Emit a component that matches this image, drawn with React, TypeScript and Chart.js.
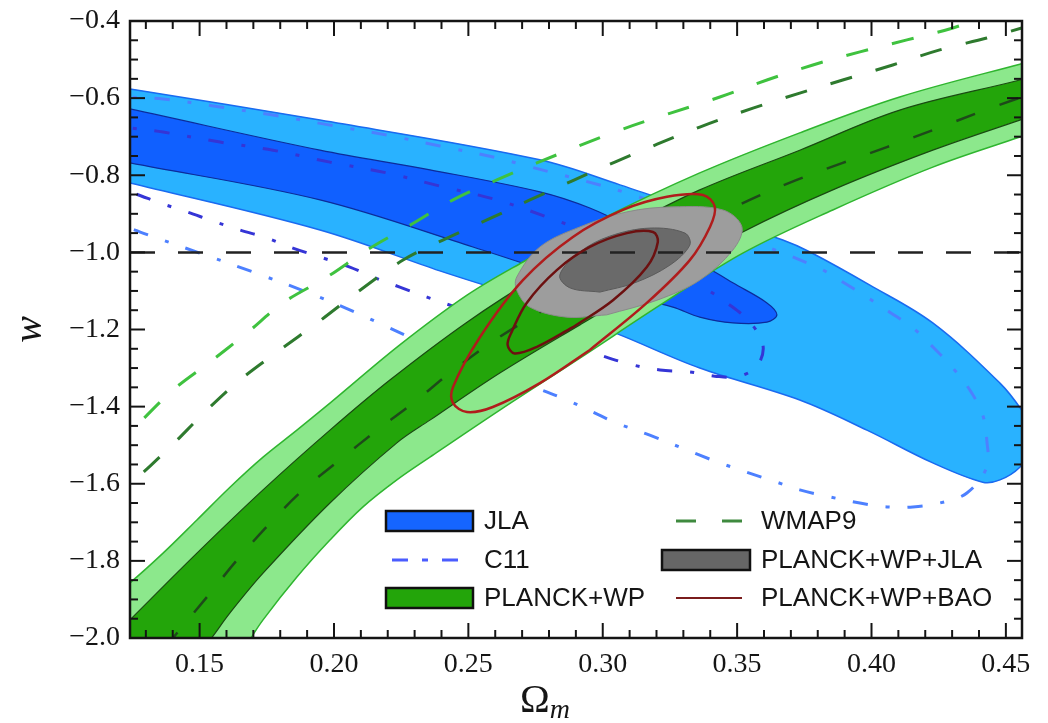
import React, { useEffect, useRef } from 'react';
import { Chart, registerables } from 'chart.js';

Chart.register(...registerables);

type P = [number, number];

// axis ranges and ticks
const X_MIN = 0.1241;
const X_MAX = 0.456;
const Y_MIN = -2.0;
const Y_MAX = -0.4;
const xTickValues = [0.15, 0.2, 0.25, 0.3, 0.35, 0.4, 0.45];
const xTickLabels = ['0.15', '0.20', '0.25', '0.30', '0.35', '0.40', '0.45'];
const yTickValues = [-2.0, -1.8, -1.6, -1.4, -1.2, -1.0, -0.8, -0.6, -0.4];
const yTickLabels = ['−2.0', '−1.8', '−1.6', '−1.4', '−1.2', '−1.0', '−0.8', '−0.6', '−0.4'];
const xMinorTicks = [0.13, 0.14, 0.16, 0.17, 0.18, 0.19, 0.21, 0.22, 0.23, 0.24, 0.26, 0.27, 0.28, 0.29, 0.31, 0.32, 0.33, 0.34, 0.36, 0.37, 0.38, 0.39, 0.41, 0.42, 0.43, 0.44];
const yMinorTicks = [-1.95, -1.9, -1.85, -1.75, -1.7, -1.65, -1.55, -1.5, -1.45, -1.35, -1.3, -1.25, -1.15, -1.1, -1.05, -0.95, -0.9, -0.85, -0.75, -0.7, -0.65, -0.55, -0.5, -0.45];

// JLA contours (Omega_m, w)
const jla2Sigma: P[] = [
  [0.1129, -0.563], [0.1241, -0.576], [0.1948, -0.657], [0.2766, -0.76], [0.3064, -0.825], [0.3361, -0.895],
  [0.367, -0.968], [0.3771, -0.999], [0.3994, -1.085], [0.4228, -1.183], [0.4478, -1.339], [0.4559, -1.409],
  [0.4626, -1.487], [0.4552, -1.557], [0.4478, -1.59], [0.4414, -1.596], [0.4228, -1.546], [0.3983, -1.461],
  [0.3733, -1.383], [0.3361, -1.3], [0.3064, -1.214], [0.2729, -1.124], [0.2394, -1.048], [0.1948, -0.942],
  [0.1241, -0.82], [0.1129, -0.802], [0.1129, -0.563],
];
const jla1Sigma: P[] = [
  [0.1129, -0.613], [0.1241, -0.628], [0.1948, -0.735], [0.2357, -0.786], [0.2766, -0.843], [0.2952, -0.885],
  [0.3138, -0.947], [0.3361, -1.028], [0.3484, -1.079], [0.3611, -1.131], [0.3648, -1.162], [0.3611, -1.181],
  [0.3484, -1.183], [0.3361, -1.168], [0.3261, -1.142], [0.3015, -1.098], [0.2517, -0.986], [0.1948, -0.864],
  [0.1241, -0.768], [0.1129, -0.753], [0.1129, -0.613],
];

// C11 contours
const c11Outer: P[] = [
  [0.1129, -0.587], [0.1241, -0.597], [0.1364, -0.602], [0.1576, -0.623], [0.1773, -0.644], [0.1985, -0.67],
  [0.2197, -0.696], [0.2394, -0.724], [0.2606, -0.755], [0.2703, -0.773], [0.3112, -0.851], [0.3436, -0.939],
  [0.3797, -1.038], [0.3893, -1.077], [0.3983, -1.116], [0.4068, -1.155], [0.4154, -1.196], [0.4228, -1.245],
  [0.4303, -1.3], [0.4366, -1.357], [0.4414, -1.422], [0.4429, -1.487], [0.4429, -1.557], [0.4355, -1.624],
  [0.4254, -1.65], [0.4154, -1.66], [0.4057, -1.66], [0.3957, -1.65], [0.3845, -1.634], [0.3733, -1.616],
  [0.3648, -1.596], [0.3536, -1.57], [0.3436, -1.546], [0.3361, -1.526], [0.3175, -1.474], [0.3053, -1.443],
  [0.2963, -1.414], [0.2867, -1.383], [0.2755, -1.352], [0.2431, -1.266], [0.2182, -1.188], [0.2085, -1.157],
  [0.1899, -1.103], [0.1699, -1.051], [0.1501, -1.002], [0.1289, -0.95], [0.1241, -0.937], [0.1129, -0.911],
];
const c11Inner: P[] = [
  [0.1129, -0.667], [0.1241, -0.677], [0.1364, -0.688], [0.1576, -0.714], [0.1773, -0.735], [0.1985, -0.766],
  [0.2197, -0.794], [0.2394, -0.828], [0.2606, -0.864], [0.2803, -0.911], [0.3064, -0.981], [0.325, -1.041],
  [0.3373, -1.09], [0.3462, -1.131], [0.3548, -1.181], [0.3596, -1.24], [0.3577, -1.292], [0.351, -1.321],
  [0.3417, -1.321], [0.3324, -1.31], [0.3213, -1.305], [0.3101, -1.29], [0.2989, -1.266], [0.2941, -1.253],
  [0.2766, -1.214], [0.2617, -1.181], [0.2346, -1.116], [0.2245, -1.09], [0.2145, -1.064], [0.2059, -1.038],
  [0.1948, -1.012], [0.1847, -0.989], [0.1751, -0.963], [0.165, -0.942], [0.155, -0.919], [0.1453, -0.895],
  [0.1353, -0.872], [0.1252, -0.846], [0.1129, -0.82],
];

// WMAP9 contour branches
const wmapOuter: P[] = [
  [0.1167, -1.513], [0.1241, -1.466], [0.1401, -1.357], [0.1539, -1.284], [0.1676, -1.209], [0.181, -1.131],
  [0.1974, -1.064], [0.2123, -0.994], [0.2272, -0.934], [0.2443, -0.864], [0.2606, -0.812], [0.2755, -0.768],
  [0.3064, -0.683], [0.3436, -0.597], [0.3611, -0.553], [0.3782, -0.514], [0.3957, -0.48], [0.4132, -0.449],
  [0.4303, -0.418], [0.444, -0.384],
];
const wmapInner: P[] = [
  [0.1167, -1.655], [0.1241, -1.603], [0.139, -1.505], [0.1527, -1.409], [0.165, -1.331], [0.1799, -1.253],
  [0.1937, -1.183], [0.2097, -1.098], [0.2257, -1.02], [0.2405, -0.968], [0.2569, -0.916], [0.2729, -0.864],
  [0.3045, -0.766], [0.3361, -0.675], [0.3559, -0.626], [0.3733, -0.587], [0.3893, -0.553], [0.4079, -0.514],
  [0.4254, -0.475], [0.4429, -0.444], [0.4559, -0.418], [0.4663, -0.397],
];
const wmapCentre: P[] = [
  [0.1371, -2.026], [0.1416, -1.987], [0.1527, -1.894], [0.1639, -1.798], [0.1762, -1.702], [0.1885, -1.616],
  [0.2022, -1.538], [0.216, -1.461], [0.2294, -1.391], [0.2431, -1.313], [0.2617, -1.219], [0.2915, -1.095],
  [0.3213, -0.978], [0.3547, -0.864], [0.3722, -0.812], [0.3893, -0.768], [0.4057, -0.727], [0.4228, -0.683],
  [0.4392, -0.639], [0.4559, -0.597], [0.4663, -0.571],
];

// PLANCK+WP bands
const planck2Sigma: P[] = [
  [0.1092, -1.94], [0.1241, -1.857], [0.1364, -1.78], [0.149, -1.694], [0.1613, -1.609], [0.1736, -1.531],
  [0.1862, -1.461], [0.1985, -1.391], [0.2245, -1.24], [0.2495, -1.111], [0.2703, -1.025], [0.2989, -0.916],
  [0.3361, -0.794], [0.3733, -0.69], [0.4105, -0.597], [0.4552, -0.512], [0.4663, -0.493], [0.4663, -0.675],
  [0.4552, -0.701], [0.4228, -0.779], [0.3856, -0.89], [0.3521, -1.002], [0.3213, -1.137], [0.2915, -1.274],
  [0.2617, -1.409], [0.2357, -1.531], [0.2234, -1.59], [0.2108, -1.66], [0.1985, -1.746], [0.1862, -1.842],
  [0.1736, -1.953], [0.1687, -2.005], [0.16, -2.109], [0.1092, -2.109], [0.1092, -1.94],
];
const planck1Sigma: P[] = [
  [0.1092, -2.057], [0.1241, -1.953], [0.149, -1.78], [0.1736, -1.616], [0.1985, -1.461], [0.2208, -1.331],
  [0.2495, -1.181], [0.2766, -1.059], [0.3064, -0.942], [0.3361, -0.838], [0.3733, -0.735], [0.4105, -0.631],
  [0.4552, -0.553], [0.4663, -0.53], [0.4663, -0.631], [0.4552, -0.657], [0.4228, -0.735], [0.3856, -0.838],
  [0.3521, -0.947], [0.3213, -1.066], [0.2915, -1.188], [0.2617, -1.313], [0.2357, -1.435], [0.2234, -1.494],
  [0.1985, -1.65], [0.1736, -1.832], [0.1613, -1.935], [0.1539, -2.005], [0.1464, -2.07], [0.1092, -2.109],
  [0.1092, -2.057],
];

// PLANCK+WP+JLA
const combined2Sigma: P[] = [
  [0.3015, -1.162], [0.2867, -1.168], [0.2729, -1.142], [0.268, -1.098], [0.268, -1.064], [0.2766, -0.986],
  [0.2915, -0.934], [0.309, -0.895], [0.3261, -0.882], [0.3447, -0.89], [0.3518, -0.934], [0.3484, -0.994],
  [0.3361, -1.072], [0.3202, -1.124], [0.3015, -1.162],
];
const combined1Sigma: P[] = [
  [0.2989, -1.103], [0.2878, -1.092], [0.284, -1.059], [0.2915, -0.999], [0.3026, -0.958], [0.3175, -0.937],
  [0.3306, -0.95], [0.3324, -0.981], [0.325, -1.033], [0.3119, -1.079], [0.2989, -1.103],
];

// PLANCK+WP+BAO
const bao2Sigma: P[] = [
  [0.2952, -1.253], [0.2766, -1.339], [0.2591, -1.401], [0.2495, -1.414], [0.2443, -1.391], [0.2443, -1.349],
  [0.2543, -1.22], [0.2703, -1.072], [0.2889, -0.96], [0.3075, -0.89], [0.3239, -0.856], [0.3373, -0.851],
  [0.3417, -0.882], [0.3399, -0.934], [0.3324, -1.02], [0.3164, -1.131], [0.2952, -1.253],
];
const bao1Sigma: P[] = [
  [0.2889, -1.194], [0.2755, -1.245], [0.2672, -1.262], [0.2646, -1.24], [0.2662, -1.205], [0.2717, -1.131],
  [0.2829, -1.046], [0.2952, -0.986], [0.309, -0.95], [0.3187, -0.947], [0.3205, -0.973], [0.3164, -1.038],
  [0.3038, -1.124], [0.2889, -1.194],
];

// reference line w = -1
const lambdaLine: P[] = [[X_MIN, -1.0], [X_MAX, -1.0]];

const legendLabels = ['JLA', 'C11', 'PLANCK+WP', 'WMAP9', 'PLANCK+WP+JLA', 'PLANCK+WP+BAO'];

const toXY = (pts: P[]) => pts.map(([x, y]) => ({ x, y }));

function area(label: string, pts: P[], fillColor: string, border: string, bw: number, order: number) {
  return {
    label,
    data: toXY(pts),
    showLine: true,
    fill: 'shape',
    backgroundColor: fillColor,
    borderColor: border,
    borderWidth: bw,
    pointRadius: 0,
    tension: 0.35,
    capBezierPoints: false,
    order,
  };
}

function curve(label: string, pts: P[], color: string, bw: number, dash: number[], order: number, tension = 0.35) {
  return {
    label,
    data: toXY(pts),
    showLine: true,
    fill: false,
    borderColor: color,
    backgroundColor: color,
    borderWidth: bw,
    borderDash: dash,
    borderCapStyle: 'butt',
    pointRadius: 0,
    tension,
    capBezierPoints: false,
    order,
  };
}

const SERIF = "'Liberation Serif', 'Times New Roman', serif";
const SANS = "'Liberation Sans', Arial, sans-serif";

const decorPlugin = {
  id: 'decor',
  afterDatasetsDraw(chart: any) {
    const { ctx, chartArea: a, scales } = chart;
    const xs = scales.x;
    const ys = scales.y;
    ctx.save();
    ctx.strokeStyle = '#141414';
    ctx.lineWidth = 2;
    const seg = (x1: number, y1: number, x2: number, y2: number) => {
      ctx.beginPath();
      ctx.moveTo(x1, y1);
      ctx.lineTo(x2, y2);
      ctx.stroke();
    };
    xTickValues.forEach((v) => {
      const px = xs.getPixelForValue(v);
      seg(px, a.bottom, px, a.bottom - 15);
      seg(px, a.top, px, a.top + 15);
    });
    xMinorTicks.forEach((v) => {
      const px = xs.getPixelForValue(v);
      seg(px, a.bottom, px, a.bottom - 8);
      seg(px, a.top, px, a.top + 8);
    });
    yTickValues.forEach((v) => {
      const py = ys.getPixelForValue(v);
      seg(a.left, py, a.left + 15, py);
      seg(a.right, py, a.right - 15, py);
    });
    yMinorTicks.forEach((v) => {
      const py = ys.getPixelForValue(v);
      seg(a.left, py, a.left + 8, py);
      seg(a.right, py, a.right - 8, py);
    });
    ctx.lineWidth = 2.5;
    ctx.strokeRect(a.left, a.top, a.right - a.left, a.bottom - a.top);

    // legend
    const rows = [513, 552, 590];
    const c1Box = [378, 465];
    const c1Text = 476;
    const c2Line = [662, 734];
    const c2Text = 753;
    ctx.font = `26px ${SANS}`;
    ctx.textBaseline = 'middle';
    ctx.textAlign = 'left';
    const box = (x1: number, x2: number, yc: number, fill: string) => {
      ctx.fillStyle = fill;
      ctx.fillRect(x1, yc - 10, x2 - x1, 20);
      ctx.strokeStyle = '#111';
      ctx.lineWidth = 2.5;
      ctx.setLineDash([]);
      ctx.strokeRect(x1, yc - 10, x2 - x1, 20);
    };
    const line = (x1: number, x2: number, yc: number, color: string, dash: number[], w: number) => {
      ctx.strokeStyle = color;
      ctx.lineWidth = w;
      ctx.setLineDash(dash);
      seg(x1, yc, x2, yc);
      ctx.setLineDash([]);
    };
    box(c1Box[0], c1Box[1], rows[0], '#1565ff');
    line(c1Box[0] + 6, c1Box[1] - 4, rows[1], '#4a5cff', [16, 14, 6, 14], 3);
    box(c1Box[0], c1Box[1], rows[2], '#23a50a');
    line(c2Line[0] + 6, c2Line[1], rows[0], '#3f8a3f', [20, 26], 3);
    box(c2Line[0] - 8, c2Line[1] + 8, rows[1], '#666666');
    line(c2Line[0] + 6, c2Line[1], rows[2], '#7a1c1c', [], 2);
    ctx.fillStyle = '#151515';
    ctx.fillText(legendLabels[0], c1Text, rows[0] + 1);
    ctx.fillText(legendLabels[1], c1Text, rows[1] + 1);
    ctx.fillText(legendLabels[2], c1Text, rows[2] + 1);
    ctx.fillText(legendLabels[3], c2Text, rows[0] + 1);
    ctx.fillText(legendLabels[4], c2Text, rows[1] + 1);
    ctx.fillText(legendLabels[5], c2Text, rows[2] + 1);

    // axis titles
    ctx.fillStyle = '#151515';
    ctx.save();
    ctx.translate(22, (a.top + a.bottom) / 2);
    ctx.rotate(-Math.PI / 2);
    ctx.textAlign = 'center';
    ctx.textBaseline = 'middle';
    ctx.font = `italic 40px ${SERIF}`;
    ctx.fillText('w', 0, 0);
    ctx.restore();
    ctx.textBaseline = 'alphabetic';
    ctx.textAlign = 'left';
    ctx.font = `40px ${SERIF}`;
    const omegaW = ctx.measureText('Ω').width;
    const ox = 512;
    ctx.fillText('Ω', ox, 704);
    ctx.font = `italic 28px ${SERIF}`;
    ctx.fillText('m', ox + omegaW, 710);
    ctx.restore();
  },
};

export default function App() {
  const ref = useRef<HTMLCanvasElement | null>(null);
  useEffect(() => {
    if (!ref.current) return;
    const datasets: any[] = [
      area('JLA 2σ', jla2Sigma, '#29b2ff', '#1a6af0', 1.5, 20),
      area('JLA 1σ', jla1Sigma, '#1060ff', '#0c2c9a', 1.2, 19),
      curve('C11 2σ', c11Outer, '#4d80ff', 3, [15, 18, 4, 18], 18),
      curve('C11 1σ', c11Inner, '#3535d6', 3, [15, 18, 4, 18], 17),
      curve('WMAP9 2σ', wmapOuter, '#3fc23f', 3, [22, 25], 16),
      curve('WMAP9 1σ', wmapInner, '#2e7a2e', 3, [22, 25], 15),
      area('PLANCK+WP 2σ', planck2Sigma, '#8ce88c', '#2fb52f', 1.5, 14),
      area('PLANCK+WP 1σ', planck1Sigma, '#23a50a', '#1a4a12', 1.2, 13),
      curve('WMAP9 centre', wmapCentre, '#1e4a1a', 2.5, [20, 26], 12),
      area('PLANCK+WP+JLA 2σ', combined2Sigma, '#9d9d9d', '#8a8a8a', 1, 11),
      area('PLANCK+WP+JLA 1σ', combined1Sigma, '#6a6a6a', '#5a5a5a', 1, 10),
      curve('w = -1', lambdaLine, '#222222', 2.5, [25, 23], 9, 0),
      curve('PLANCK+WP+BAO 2σ', bao2Sigma, '#b01c1c', 2.5, [], 8),
      curve('PLANCK+WP+BAO 1σ', bao1Sigma, '#6c1010', 2.5, [], 7),
    ];
    const tickFont = { family: SERIF, size: 28 };
    const chart = new Chart(ref.current, {
      type: 'scatter',
      data: { datasets },
      options: {
        animation: false,
        responsive: false,
        devicePixelRatio: 1,
        events: [],
        layout: { padding: { left: 0, top: 13, right: 18, bottom: 0 } },
        elements: { line: { capBezierPoints: false } },
        plugins: { legend: { display: false }, tooltip: { enabled: false }, title: { display: false } },
        scales: {
          x: {
            type: 'linear',
            min: X_MIN,
            max: X_MAX,
            grid: { display: false, drawTicks: false },
            border: { display: false },
            ticks: {
              padding: 10,
              font: tickFont,
              color: '#151515',
              autoSkip: false,
              maxRotation: 0,
              callback: (v: any) => {
                const i = xTickValues.findIndex((t) => Math.abs(t - Number(v)) < 1e-9);
                return i >= 0 ? xTickLabels[i] : '';
              },
            },
            afterBuildTicks: (s: any) => {
              s.ticks = xTickValues.map((v) => ({ value: v }));
            },
            afterFit: (s: any) => {
              s.height = 85;
              s.paddingLeft = 0;
              s.paddingRight = 0;
            },
          },
          y: {
            type: 'linear',
            min: Y_MIN,
            max: Y_MAX,
            grid: { display: false, drawTicks: false },
            border: { display: false },
            ticks: {
              padding: 10,
              font: tickFont,
              color: '#151515',
              autoSkip: false,
              callback: (v: any) => {
                const i = yTickValues.findIndex((t) => Math.abs(t - Number(v)) < 1e-9);
                return i >= 0 ? yTickLabels[i] : '';
              },
            },
            afterBuildTicks: (s: any) => {
              s.ticks = yTickValues.map((v) => ({ value: v }));
            },
            afterFit: (s: any) => {
              s.width = 122;
              s.paddingTop = 0;
              s.paddingBottom = 0;
            },
          },
        },
      },
      plugins: [decorPlugin],
    } as any);
    return () => chart.destroy();
  }, []);
  return (
    <div style={{ width: 1032, height: 715 }}>
      <canvas ref={ref} width={1032} height={715} style={{ display: 'block' }} />
    </div>
  );
}
